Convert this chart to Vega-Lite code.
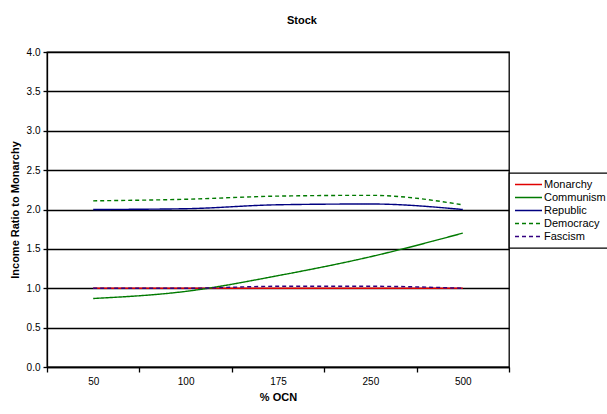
{
  "$schema": "https://vega.github.io/schema/vega-lite/v6.json",
  "description": "Stock: income ratio to Monarchy by % OCN.",
  "width": 462,
  "height": 315,
  "autosize": {"type": "none"},
  "padding": {"left": 47, "top": 52, "right": 98, "bottom": 47},
  "background": "white",
  "title": {
    "text": "Stock",
    "font": "Liberation Sans",
    "fontSize": 11,
    "fontWeight": "bold",
    "anchor": "middle",
    "dx": 24,
    "offset": 21
  },
  "config": {
    "view": {"stroke": "black", "strokeWidth": 1.3},
    "axis": {
      "labelFont": "Liberation Sans",
      "titleFont": "Liberation Sans",
      "labelFontSize": 10,
      "titleFontSize": 11,
      "titleFontWeight": "bold",
      "labelColor": "black",
      "titleColor": "black",
      "domainColor": "black",
      "tickColor": "black",
      "domainWidth": 1.3,
      "tickWidth": 1.3
    }
  },
  "data": {
    "values": [
      {"ocn": "50", "series": "Monarchy", "ratio": 1.0},
      {"ocn": "100", "series": "Monarchy", "ratio": 1.0},
      {"ocn": "175", "series": "Monarchy", "ratio": 1.0},
      {"ocn": "250", "series": "Monarchy", "ratio": 1.0},
      {"ocn": "500", "series": "Monarchy", "ratio": 1.0},
      {"ocn": "50", "series": "Communism", "ratio": 0.87},
      {"ocn": "100", "series": "Communism", "ratio": 0.96},
      {"ocn": "175", "series": "Communism", "ratio": 1.16},
      {"ocn": "250", "series": "Communism", "ratio": 1.4},
      {"ocn": "500", "series": "Communism", "ratio": 1.7},
      {"ocn": "50", "series": "Republic", "ratio": 2.0},
      {"ocn": "100", "series": "Republic", "ratio": 2.01},
      {"ocn": "175", "series": "Republic", "ratio": 2.06},
      {"ocn": "250", "series": "Republic", "ratio": 2.07},
      {"ocn": "500", "series": "Republic", "ratio": 2.0},
      {"ocn": "50", "series": "Democracy", "ratio": 2.11},
      {"ocn": "100", "series": "Democracy", "ratio": 2.13},
      {"ocn": "175", "series": "Democracy", "ratio": 2.17},
      {"ocn": "250", "series": "Democracy", "ratio": 2.18},
      {"ocn": "500", "series": "Democracy", "ratio": 2.06},
      {"ocn": "50", "series": "Fascism", "ratio": 1.0},
      {"ocn": "100", "series": "Fascism", "ratio": 1.0},
      {"ocn": "175", "series": "Fascism", "ratio": 1.025},
      {"ocn": "250", "series": "Fascism", "ratio": 1.025},
      {"ocn": "500", "series": "Fascism", "ratio": 1.0}
    ]
  },
  "mark": {"type": "line", "strokeWidth": 1.4, "interpolate": "monotone"},
  "encoding": {
    "x": {
      "field": "ocn",
      "type": "ordinal",
      "sort": ["50", "100", "175", "250", "500"],
      "title": "% OCN",
      "scale": {"type": "band", "paddingInner": 0, "paddingOuter": 0},
      "axis": {
        "labelAngle": 0,
        "tickBand": "extent",
        "tickSize": 5,
        "labelPadding": 4,
        "titlePadding": 5,
        "grid": false
      }
    },
    "y": {
      "field": "ratio",
      "type": "quantitative",
      "title": "Income Ratio to Monarchy",
      "scale": {"domain": [0, 4], "nice": false},
      "axis": {
        "values": [0, 0.5, 1, 1.5, 2, 2.5, 3, 3.5, 4],
        "format": ".1f",
        "tickSize": 4,
        "labelPadding": 3,
        "titlePadding": 6,
        "grid": true,
        "gridColor": "black",
        "gridOpacity": 1,
        "gridWidth": 1.3
      }
    },
    "color": {
      "field": "series",
      "type": "nominal",
      "sort": ["Monarchy", "Communism", "Republic", "Democracy", "Fascism"],
      "scale": {
        "domain": ["Monarchy", "Communism", "Republic", "Democracy", "Fascism"],
        "range": ["#e00000", "#007a00", "#000080", "#007a00", "#330080"]
      },
      "legend": {
        "title": null,
        "orient": "none",
        "legendX": 462,
        "legendY": 121,
        "padding": 5,
        "symbolType": "stroke",
        "symbolSize": 729,
        "symbolStrokeWidth": 1.4,
        "labelFont": "Liberation Sans",
        "labelFontSize": 11,
        "labelColor": "black",
        "labelOffset": 1,
        "clipHeight": 13,
        "rowPadding": 0,
        "encode": {
          "legend": {
            "update": {
              "stroke": {"value": "black"},
              "strokeWidth": {"value": 1.3},
              "fill": {"value": "white"}
            }
          }
        }
      }
    },
    "strokeDash": {
      "field": "series",
      "type": "nominal",
      "sort": ["Monarchy", "Communism", "Republic", "Democracy", "Fascism"],
      "scale": {
        "domain": ["Monarchy", "Communism", "Republic", "Democracy", "Fascism"],
        "range": [[1, 0], [1, 0], [1, 0], [4, 3], [4, 3]]
      },
      "legend": null
    }
  }
}
